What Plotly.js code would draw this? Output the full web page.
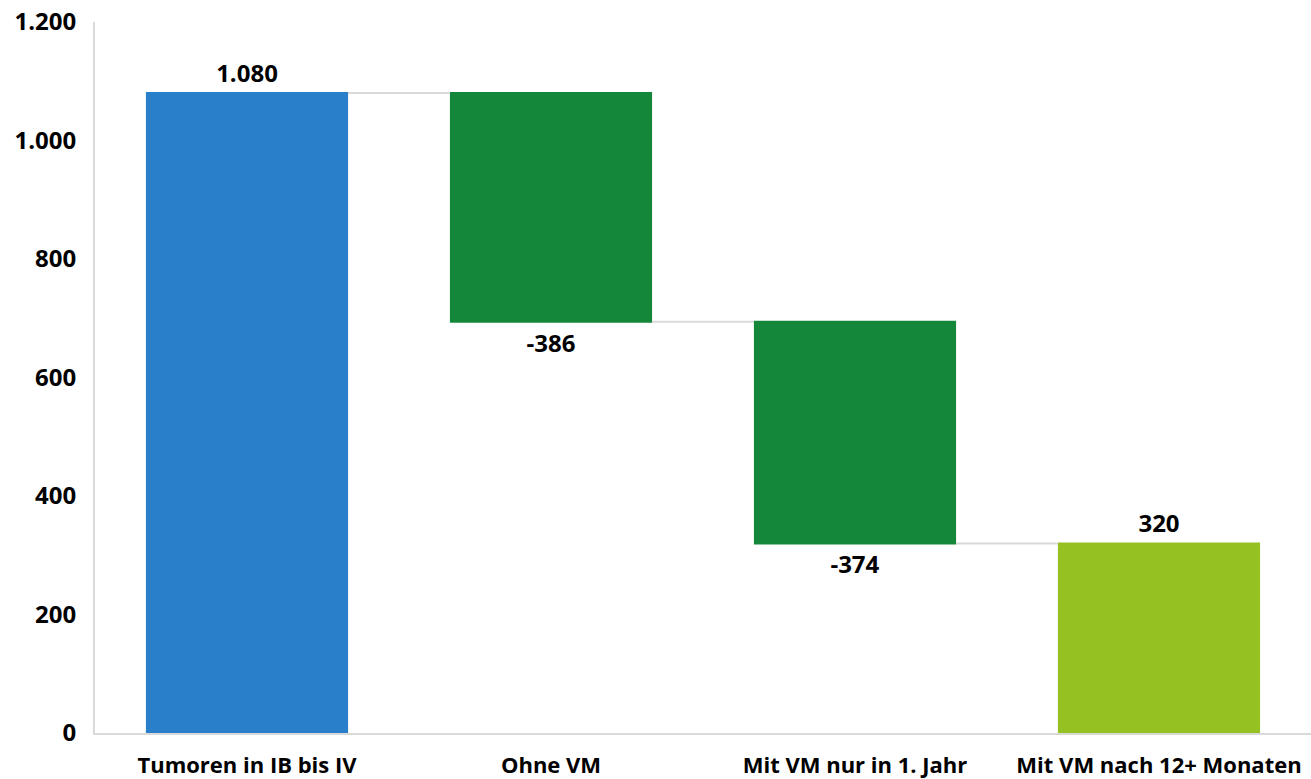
<!DOCTYPE html>
<html>
<head>
<meta charset="utf-8">
<script src="https://cdn.plot.ly/plotly-3.0.1.min.js"></script>
<style>html,body{margin:0;padding:0;background:#fff;}#chart{width:1311px;height:779px;}</style>
</head>
<body>
<div id="chart"></div>
<script>
const categories = ["Tumoren in IB bis IV", "Ohne VM", "Mit VM nur in 1. Jahr", "Mit VM nach 12+ Monaten"];
const values = [1080, -386, -374, 320];
const measures = ["relative", "relative", "relative", "total"];
const tickValues = [0, 200, 400, 600, 800, 1000, 1200];

function fmt(v) {
  const s = Math.abs(v).toString().replace(/\B(?=(\d{3})+(?!\d))/g, ".");
  return (v < 0 ? "-" : "") + s;
}

const fontFam = "'Open Sans', 'Liberation Sans', sans-serif";

const trace = {
  type: "waterfall",
  x: categories,
  y: values,
  measure: measures,
  text: values.map(fmt),
  textposition: "outside",
  textfont: {family: fontFam, size: 24, color: "#000", weight: "bold"},
  cliponaxis: false,
  increasing: {marker: {color: "#2A7FCA"}},
  decreasing: {marker: {color: "#15873B"}},
  totals: {marker: {color: "#95C122"}},
  connector: {mode: "between", line: {color: "#D9D9D9", width: 2}},
  hoverinfo: "x+y"
};

const layout = {
  width: 1311, height: 779,
  margin: {l: 95, r: 0, t: 22, b: 46},
  paper_bgcolor: "#fff", plot_bgcolor: "#fff",
  separators: ",.",
  showlegend: false,
  waterfallgap: 0.335,
  font: {family: fontFam, color: "#000", size: 22, weight: "bold"},
  xaxis: {
    type: "category",
    showline: true, linecolor: "#D9D9D9", linewidth: 2,
    showgrid: false, zeroline: false, ticks: "",
    ticklabelstandoff: 12,
    tickfont: {family: fontFam, size: 22, color: "#000", weight: "bold"}
  },
  yaxis: {
    range: [0, 1200],
    tickvals: tickValues,
    ticktext: tickValues.map(fmt),
    showline: true, linecolor: "#D9D9D9", linewidth: 2,
    showgrid: false, zeroline: false, ticks: "",
    ticklabelstandoff: 12,
    tickfont: {family: fontFam, size: 24, color: "#000", weight: "bold"}
  }
};

Plotly.newPlot("chart", [trace], layout, {displayModeBar: false, staticPlot: true});
</script>
</body>
</html>
